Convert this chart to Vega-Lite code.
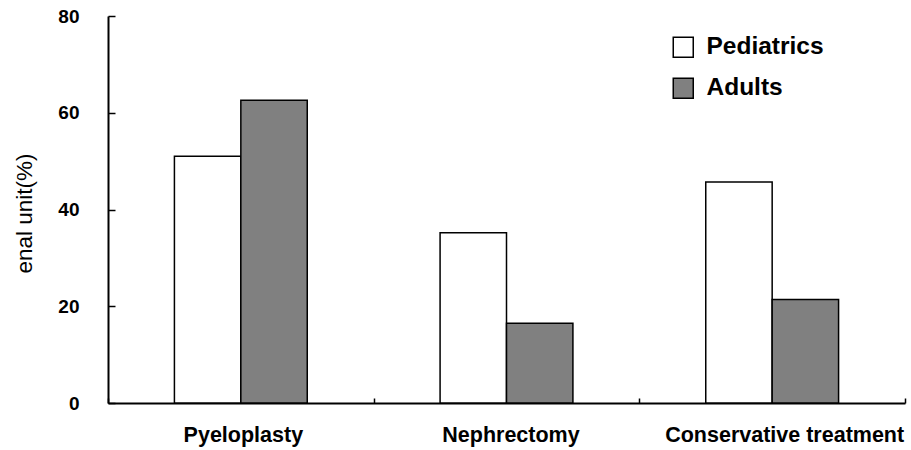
{
  "$schema": "https://vega.github.io/schema/vega-lite/v6.json",
  "width": 797,
  "height": 387,
  "autosize": {"type": "none"},
  "padding": {"left": 108, "top": 16, "right": 6, "bottom": 47},
  "background": "white",
  "config": {
    "view": {"stroke": null},
    "font": "Liberation Sans"
  },
  "data": {
    "values": [
      {"treatment": "Pyeloplasty", "group": "Pediatrics", "value": 51.0},
      {"treatment": "Pyeloplasty", "group": "Adults", "value": 62.6},
      {"treatment": "Nephrectomy", "group": "Pediatrics", "value": 35.2},
      {"treatment": "Nephrectomy", "group": "Adults", "value": 16.5},
      {"treatment": "Conservative treatment", "group": "Pediatrics", "value": 45.7},
      {"treatment": "Conservative treatment", "group": "Adults", "value": 21.4}
    ]
  },
  "mark": {"type": "bar", "stroke": "black", "strokeWidth": 1.5},
  "encoding": {
    "x": {
      "field": "treatment",
      "type": "nominal",
      "sort": ["Pyeloplasty", "Nephrectomy", "Conservative treatment"],
      "scale": {"paddingInner": 0, "paddingOuter": 0},
      "axis": {
        "title": null,
        "labelAngle": 0,
        "labelFont": "Liberation Sans",
        "labelFontWeight": "bold",
        "labelFontSize": 21.5,
        "labelColor": "black",
        "labelPadding": 26,
        "labelBaseline": "top",
        "labelLimit": 400,
        "labelOffset": {
          "condition": [
            {"test": "datum.value === 'Conservative treatment'", "value": 12},
            {"test": "datum.value === 'Nephrectomy'", "value": 4}
          ],
          "value": 2
        },
        "tickBand": "extent",
        "tickSize": -5,
        "tickWidth": 1.5,
        "tickColor": "black",
        "domainColor": "black",
        "domainWidth": 2,
        "grid": false
      }
    },
    "xOffset": {
      "field": "group",
      "type": "nominal",
      "sort": ["Pediatrics", "Adults"],
      "scale": {"paddingInner": 0, "paddingOuter": 1}
    },
    "y": {
      "field": "value",
      "type": "quantitative",
      "scale": {"domain": [0, 80], "nice": false},
      "axis": {
        "title": "enal unit(%)",
        "titleFont": "Liberation Sans",
        "titleFontWeight": "normal",
        "titleFontSize": 22.5,
        "titleColor": "black",
        "titleAngle": -90,
        "titleBaseline": "alphabetic",
        "titleX": -77,
        "titleY": 197,
        "values": [0, 20, 40, 60, 80],
        "labelFont": "Liberation Sans",
        "labelFontWeight": "bold",
        "labelFontSize": 19,
        "labelColor": "black",
        "labelPadding": 36,
        "tickSize": -7,
        "tickWidth": 1.5,
        "tickColor": "black",
        "domainColor": "black",
        "domainWidth": 2,
        "grid": false
      }
    },
    "fill": {
      "field": "group",
      "type": "nominal",
      "sort": ["Pediatrics", "Adults"],
      "scale": {"domain": ["Pediatrics", "Adults"], "range": ["#ffffff", "#808080"]},
      "legend": {
        "title": null,
        "orient": "none",
        "legendX": 563,
        "legendY": 19,
        "symbolType": "square",
        "symbolSize": 400,
        "symbolStrokeColor": "black",
        "symbolStrokeWidth": 1.5,
        "labelFont": "Liberation Sans",
        "labelFontWeight": "bold",
        "labelFontSize": 24.5,
        "labelColor": "black",
        "labelOffset": 11,
        "rowPadding": 14,
        "labelLimit": 300
      }
    }
  }
}
